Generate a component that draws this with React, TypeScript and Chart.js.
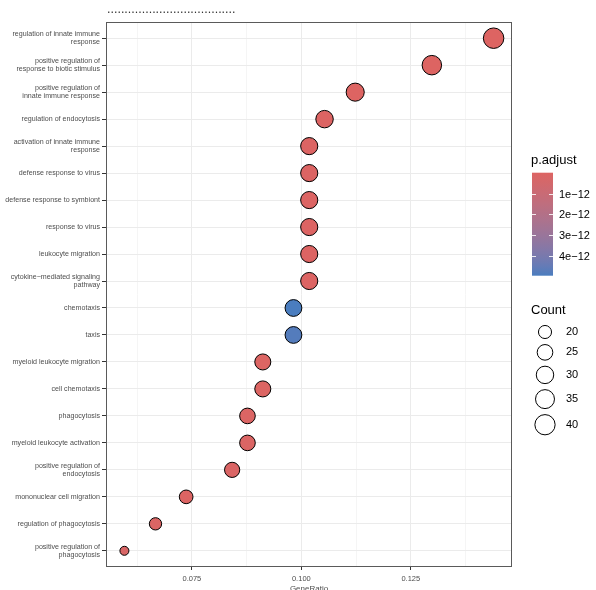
import React, { useEffect, useRef } from "react";
import { Chart, registerables } from "chart.js";

Chart.register(...registerables);

// ---------- data ----------
const terms: string[][] = [
  ["regulation of innate immune", "response"],
  ["positive regulation of", "response to biotic stimulus"],
  ["positive regulation of", "innate immune response"],
  ["regulation of endocytosis"],
  ["activation of innate immune", "response"],
  ["defense response to virus"],
  ["defense response to symbiont"],
  ["response to virus"],
  ["leukocyte migration"],
  ["cytokine\u2212mediated signaling", "pathway"],
  ["chemotaxis"],
  ["taxis"],
  ["myeloid leukocyte migration"],
  ["cell chemotaxis"],
  ["phagocytosis"],
  ["myeloid leukocyte activation"],
  ["positive regulation of", "endocytosis"],
  ["mononuclear cell migration"],
  ["regulation of phagocytosis"],
  ["positive regulation of", "phagocytosis"],
];
const geneRatio = [
  0.1439, 0.1298, 0.1123, 0.1053, 0.1018, 0.1018, 0.1018, 0.1018, 0.1018, 0.1018,
  0.0982, 0.0982, 0.0912, 0.0912, 0.0877, 0.0877, 0.0842, 0.0737, 0.0667, 0.0596,
];
const counts = [41, 37, 32, 30, 29, 29, 29, 29, 29, 29, 28, 28, 26, 26, 25, 25, 24, 21, 19, 17];
const pAdjust = [
  1.2e-16, 3.5e-15, 8.9e-15, 3.1e-14, 4.6e-14, 4.6e-14, 4.7e-14, 4.7e-14, 4.8e-14, 4.8e-14,
  4.95e-12, 4.8e-12, 7.2e-14, 7.4e-14, 1.1e-13, 1.1e-13, 1.8e-13, 6.5e-14, 9.0e-14, 2.1e-13,
];
const xMajorTicks = [0.075, 0.1, 0.125];
const xMinorTicks = [0.0625, 0.0875, 0.1125, 0.1375];
const countBreaks = [20, 25, 30, 35, 40];
const pBreaks = [1e-12, 2e-12, 3e-12, 4e-12];
const titleText = ".....................................";
const xTitle = "GeneRatio";
const LOW_COLOR = "#dd6462";
const HIGH_COLOR = "#4a7dbf";

// ---------- helpers ----------
const FONT = "'Liberation Sans', Arial, sans-serif";
function hexToRgb(h: string) {
  return [1, 3, 5].map((i) => parseInt(h.slice(i, i + 2), 16));
}
function toLin(c: number) {
  c /= 255;
  return c <= 0.04045 ? c / 12.92 : Math.pow((c + 0.055) / 1.055, 2.4);
}
function fromLin(c: number) {
  const v = c <= 0.0031308 ? 12.92 * c : 1.055 * Math.pow(c, 1 / 2.4) - 0.055;
  return Math.round(Math.max(0, Math.min(1, v)) * 255);
}
function rgbToLab(rgb: number[]) {
  const [r, g, b] = rgb.map(toLin);
  const x = (0.4124 * r + 0.3576 * g + 0.1805 * b) / 0.95047;
  const y = 0.2126 * r + 0.7152 * g + 0.0722 * b;
  const z = (0.0193 * r + 0.1192 * g + 0.9505 * b) / 1.08883;
  const f = (t: number) => (t > 0.008856 ? Math.cbrt(t) : 7.787 * t + 16 / 116);
  const fx = f(x), fy = f(y), fz = f(z);
  return [116 * fy - 16, 500 * (fx - fy), 200 * (fy - fz)];
}
function labToRgb(lab: number[]) {
  const [L, a, b] = lab;
  const fy = (L + 16) / 116, fx = fy + a / 500, fz = fy - b / 200;
  const finv = (t: number) => (t * t * t > 0.008856 ? t * t * t : (t - 16 / 116) / 7.787);
  const x = finv(fx) * 0.95047, y = finv(fy), z = finv(fz) * 1.08883;
  const r = 3.2406 * x - 1.5372 * y - 0.4986 * z;
  const g = -0.9689 * x + 1.8758 * y + 0.0415 * z;
  const bb = 0.0557 * x - 0.204 * y + 1.057 * z;
  return `rgb(${fromLin(r)},${fromLin(g)},${fromLin(bb)})`;
}
const lowLab = rgbToLab(hexToRgb(LOW_COLOR));
const highLab = rgbToLab(hexToRgb(HIGH_COLOR));
function gradColor(t: number) {
  t = Math.max(0, Math.min(1, t));
  return labToRgb(lowLab.map((v, i) => v + (highLab[i] - v) * t));
}
const pMin = Math.min(...pAdjust);
const pMax = Math.max(...pAdjust);
const pT = (p: number) => (p - pMin) / (pMax - pMin);
const cMin = Math.min(...counts);
const cMax = Math.max(...counts);
// diameter (px) of a point for a count, area-proportional size scale
const diameter = (c: number) => 10 + 11.5 * Math.sqrt(Math.max(0, (c - cMin) / (cMax - cMin)));
const fmtP = (v: number) => {
  const e = Math.floor(Math.log10(v) + 1e-9);
  const m = Math.round(v / Math.pow(10, e));
  return `${m}e${e < 0 ? "\u2212" + Math.abs(e) : "+" + e}`;
};
const isMajor = (v: number) => xMajorTicks.some((m) => Math.abs(m - v) < 1e-9);

const decorPlugin = {
  id: "decor",
  afterDatasetsDraw(chart: any) {
    const { ctx, chartArea } = chart;
    const { left, right, top, bottom } = chartArea;
    ctx.save();
    // panel border
    ctx.strokeStyle = "#5a5a5a";
    ctx.lineWidth = 1;
    ctx.strokeRect(Math.round(left) + 0.5, Math.round(top) + 0.5, Math.round(right - left) - 1, Math.round(bottom - top) - 1);
    // title (dotted)
    ctx.fillStyle = "#333333";
    ctx.font = `12.5px ${FONT}`;
    ctx.textAlign = "left";
    ctx.textBaseline = "alphabetic";
    ctx.fillText(titleText, left + 1, 13);
    // x axis title
    ctx.fillStyle = "#4D4D4D";
    ctx.font = `8px ${FONT}`;
    ctx.textAlign = "center";
    ctx.textBaseline = "top";
    ctx.fillText(xTitle, (left + right) / 2, 585);

    // colour legend
    const lx = 531;
    ctx.fillStyle = "#000000";
    ctx.textAlign = "left";
    ctx.textBaseline = "middle";
    ctx.font = `13px ${FONT}`;
    ctx.fillText("p.adjust", lx, 160);
    const barX = 532, barW = 21, barTop = 172.7, barH = 103;
    const grad = ctx.createLinearGradient(0, barTop, 0, barTop + barH);
    for (let i = 0; i <= 20; i++) grad.addColorStop(i / 20, gradColor(i / 20));
    ctx.fillStyle = grad;
    ctx.fillRect(barX, barTop, barW, barH);
    ctx.strokeStyle = "rgba(255,255,255,0.85)";
    ctx.lineWidth = 1;
    ctx.font = `11px ${FONT}`;
    pBreaks.forEach((b) => {
      const y = Math.round(barTop + pT(b) * barH) + 0.5;
      ctx.beginPath();
      ctx.moveTo(barX, y);
      ctx.lineTo(barX + 4, y);
      ctx.moveTo(barX + barW - 4, y);
      ctx.lineTo(barX + barW, y);
      ctx.stroke();
      ctx.fillStyle = "#000000";
      ctx.fillText(fmtP(b), 559, y);
    });

    // size legend
    ctx.fillStyle = "#000000";
    ctx.font = `13px ${FONT}`;
    ctx.fillText("Count", lx, 310);
    ctx.font = `11px ${FONT}`;
    let y = 332 - (diameter(countBreaks[0]) + 5) / 2;
    countBreaks.forEach((c) => {
      const d = diameter(c);
      const h = d + 5;
      const cy = y + h / 2;
      ctx.beginPath();
      ctx.arc(545, cy, d / 2 - 0.5, 0, Math.PI * 2);
      ctx.fillStyle = "#FFFFFF";
      ctx.fill();
      ctx.strokeStyle = "#000000";
      ctx.lineWidth = 1;
      ctx.stroke();
      ctx.fillStyle = "#000000";
      ctx.fillText(String(c), 566, cy);
      y += h;
    });
    ctx.restore();
  },
};

export default function App() {
  const ref = useRef<HTMLCanvasElement | null>(null);
  useEffect(() => {
    if (!ref.current) return;
    const data = geneRatio.map((g, i) => ({ x: g, y: i }));
    const chart = new Chart(ref.current, {
      type: "scatter",
      data: {
        datasets: [
          {
            data,
            pointRadius: counts.map((c) => diameter(c) / 2 - 0.5),
            pointHoverRadius: counts.map((c) => diameter(c) / 2 - 0.5),
            backgroundColor: pAdjust.map((p) => gradColor(pT(p))),
            borderColor: "#000000",
            borderWidth: 1,
          },
        ],
      },
      plugins: [decorPlugin],
      options: {
        animation: false,
        responsive: false,
        devicePixelRatio: 1,
        layout: { padding: { top: 22, right: 84, left: 0, bottom: 0 } },
        plugins: { legend: { display: false }, tooltip: { enabled: false }, title: { display: false } },
        scales: {
          x: {
            type: "linear",
            min: 0.0554,
            max: 0.1481,
            afterBuildTicks: (s: any) => {
              s.ticks = [...xMinorTicks, ...xMajorTicks].sort((a, b) => a - b).map((v) => ({ value: v }));
            },
            afterFit: (s: any) => {
              s.height = 23;
            },
            ticks: {
              autoSkip: false,
              maxRotation: 0,
              padding: 4,
              color: "#4D4D4D",
              font: { family: FONT, size: 7.5 },
              callback: (v: any) => (isMajor(Number(v)) ? Number(v).toFixed(3) : ""),
            },
            grid: {
              color: (c: any) => (c.tick && isMajor(c.tick.value) ? "#EBEBEB" : "#F5F5F5"),
              tickColor: (c: any) => (c.tick && isMajor(c.tick.value) ? "#333333" : "rgba(0,0,0,0)"),
              tickLength: 3,
              lineWidth: 1,
            },
            border: { display: false },
          },
          y: {
            type: "linear",
            reverse: true,
            min: -0.6,
            max: terms.length - 1 + 0.6,
            afterBuildTicks: (s: any) => {
              s.ticks = terms.map((_, i) => ({ value: i }));
            },
            afterFit: (s: any) => {
              s.width = 106;
            },
            ticks: {
              autoSkip: false,
              padding: 2,
              color: "#4D4D4D",
              font: { family: FONT, size: 7.1, lineHeight: 1.05 },
              callback: (v: any) => terms[Math.round(Number(v))] ?? "",
            },
            grid: {
              color: "#EBEBEB",
              tickColor: "#333333",
              tickLength: 4,
              lineWidth: 1,
            },
            border: { display: false },
          },
        },
      },
    } as any);
    return () => chart.destroy();
  }, []);
  return (
    <div style={{ position: "absolute", left: 0, top: 0, width: 596, height: 590, background: "#FFFFFF" }}>
      <canvas ref={ref} width={596} height={590} style={{ width: 596, height: 590, display: "block" }} />
    </div>
  );
}
